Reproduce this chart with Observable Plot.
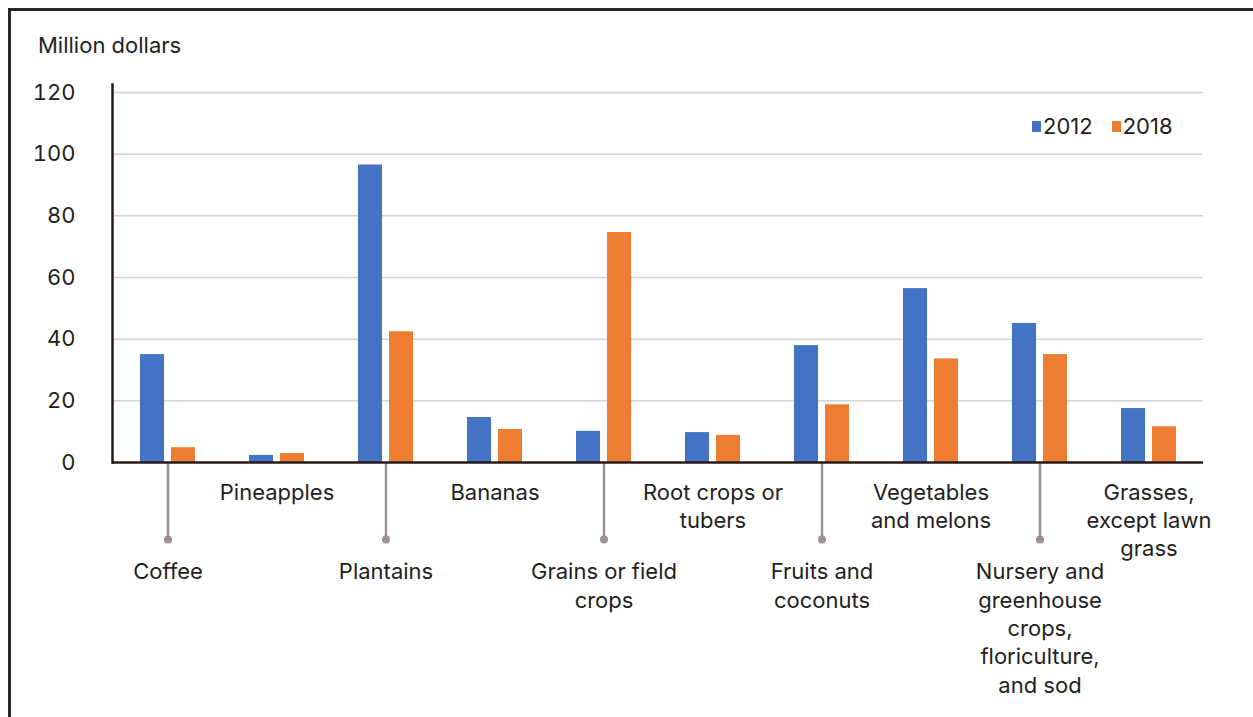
<!DOCTYPE html>
<html>
<head>
<meta charset="utf-8">
<script src="https://cdn.jsdelivr.net/npm/d3@7"></script>
<script src="https://cdn.jsdelivr.net/npm/@observablehq/plot@0.6"></script>
<style>
  html, body { margin: 0; padding: 0; background: #fff; }
  #wrap { position: relative; width: 1253px; height: 717px; overflow: hidden; font-family: Inter, "Open Sans", sans-serif; color: #231f20; }
  #border { position: absolute; left: 8px; top: 8px; right: -10px; bottom: -10px; border-left: 3px solid #262626; border-top: 3px solid #262626; }
  #title { position: absolute; left: 38px; top: 31px; font-size: 22px; line-height: 28px; }
  #legend { position: absolute; left: 1032px; top: 113px; font-size: 22px; line-height: 26px; display: flex; align-items: center; }
  #legend .sw { display: inline-block; width: 9px; height: 11px; margin-right: 2px; }
  #legend .item { display: flex; align-items: center; margin-right: 19px; }
  #chart { position: absolute; left: 0; top: 0; }
</style>
</head>
<body>
<div id="wrap">
  <div id="border"></div>
  <div id="title">Million dollars</div>
  <div id="legend"></div>
  <div id="chart"></div>
</div>
<script>
const categories = ["Coffee", "Pineapples", "Plantains", "Bananas", "Grains or field crops", "Root crops or tubers", "Fruits and coconuts", "Vegetables and melons", "Nursery and greenhouse crops, floriculture, and sod", "Grasses, except lawn grass"];
const labels = ["Coffee", "Pineapples", "Plantains", "Bananas", "Grains or field\ncrops", "Root crops or\ntubers", "Fruits and\ncoconuts", "Vegetables\nand melons", "Nursery and\ngreenhouse\ncrops,\nfloriculture,\nand sod", "Grasses,\nexcept lawn\ngrass"];
const values2012 = [35.0, 2.3, 96.5, 14.6, 10.1, 9.7, 37.9, 56.4, 45.1, 17.5];
const values2018 = [4.8, 2.9, 42.4, 10.7, 74.6, 8.8, 18.7, 33.6, 35.0, 11.6];
const years = ["2012", "2018"];
const yTicks = [0, 20, 40, 60, 80, 100, 120];

const colors = {"2012": "#4472C4", "2018": "#ED7D31"};
const ink = "#231f20";

const d2012 = categories.map((c, i) => ({category: c, value: values2012[i]}));
const d2018 = categories.map((c, i) => ({category: c, value: values2018[i]}));
const labelData = categories.map((c, i) => ({category: c, label: labels[i], lower: i % 2 === 0}));
const lowerLabels = labelData.filter(d => d.lower);
const upperLabels = labelData.filter(d => !d.lower);

const chart = Plot.plot({
  width: 1253,
  height: 717,
  marginLeft: 112,
  marginRight: 50,
  marginTop: 84,
  marginBottom: 255,
  style: {fontFamily: "Inter, 'Open Sans', sans-serif", fontSize: "22px", color: ink, background: "transparent", overflow: "visible"},
  x: {domain: categories, padding: 0, axis: null},
  y: {domain: [0, 122.6], axis: null},
  marks: [
    Plot.ruleY(yTicks.filter(t => t > 0), {stroke: "#d3d3d3", strokeWidth: 1.5}),
    Plot.axisY({ticks: yTicks, tickSize: 0, tickPadding: 37, fontSize: 22, fill: ink, label: null}),
    Plot.barY(d2012, {x: "category", y: "value", fill: colors["2012"], insetLeft: 27, insetRight: 58}),
    Plot.barY(d2018, {x: "category", y: "value", fill: colors["2018"], insetLeft: 58, insetRight: 27}),
    Plot.ruleX(lowerLabels, {x: "category", y1: 0, y2: 0, insetBottom: -77, stroke: "#9c9090", strokeWidth: 2.5}),
    Plot.dot(lowerLabels, {x: "category", y: 0, dy: 77, r: 4, fill: "#9c9090"}),
    Plot.ruleY([0], {stroke: "#2a1a17", strokeWidth: 2.5}),
    Plot.frame({anchor: "left", stroke: "#2a1a17", strokeWidth: 2.5}),
    Plot.text(upperLabels, {x: "category", text: "label", frameAnchor: "bottom", lineAnchor: "top", dy: 17, lineHeight: 1.29, fontSize: 22, fill: ink}),
    Plot.text(lowerLabels, {x: "category", text: "label", frameAnchor: "bottom", lineAnchor: "top", dy: 96.5, lineHeight: 1.29, fontSize: 22, fill: ink})
  ]
});
document.getElementById("chart").appendChild(chart);

const legend = document.getElementById("legend");
years.forEach(yr => {
  const item = document.createElement("span");
  item.className = "item";
  const sw = document.createElement("span");
  sw.className = "sw";
  sw.style.background = colors[yr];
  item.appendChild(sw);
  item.appendChild(document.createTextNode(yr));
  legend.appendChild(item);
});
</script>
</body>
</html>
